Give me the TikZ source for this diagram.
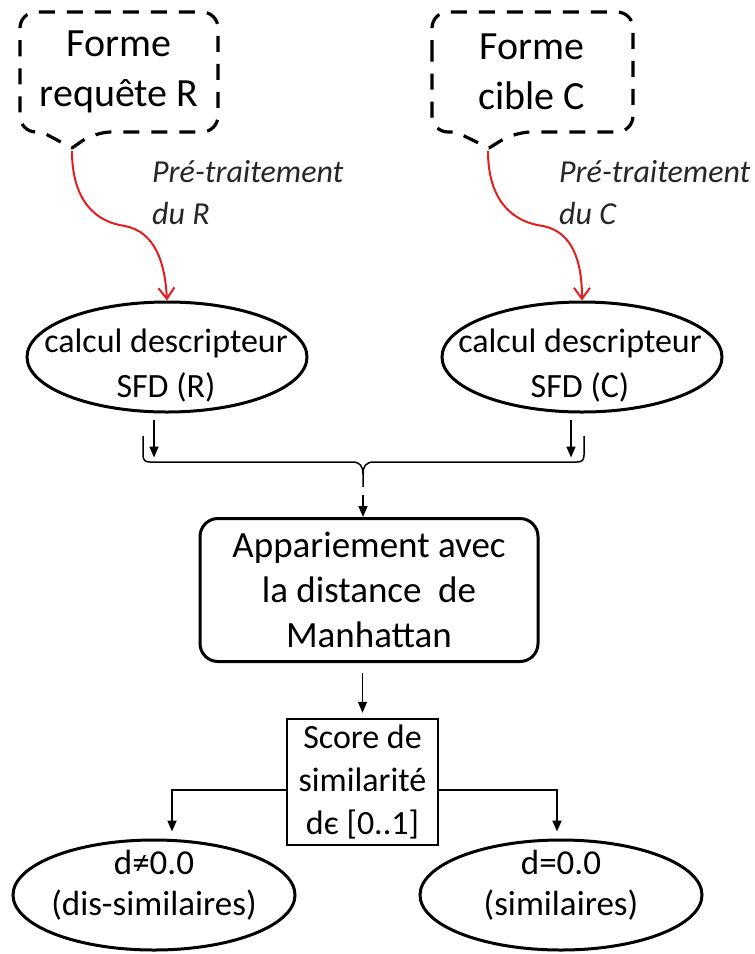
\documentclass[tikz,border=0pt]{standalone}
\usepackage{fontspec}
\setmainfont{Carlito}
\usetikzlibrary{arrows.meta,shapes.geometric}
\begin{document}
\begin{tikzpicture}[x=1pt,y=-1pt,
  txt/.style={font=\fontsize{34}{45}\selectfont, align=center, inner sep=0pt},
  bigtxt/.style={font=\fontsize{40}{50}\selectfont, align=center, inner sep=0pt},
  lbl/.style={font=\fontsize{32}{42}\selectfont\itshape, align=left, inner sep=0pt, anchor=north west, text=black!85},
  dashbox/.style={line width=3.2pt, dash pattern=on 16pt off 12pt, line join=round},
  ell/.style={ellipse, draw, line width=3pt, minimum width=280pt, minimum height=110pt, inner sep=0pt},
  redarrow/.style={draw={rgb,255:red,228;green,30;blue,30}, line width=2pt, -{Straight Barb[length=11pt,width=16pt]}},
  blackarrow/.style={line width=1.6pt, -{Triangle[length=11pt,width=9pt]}},
  thinline/.style={line width=1.5pt},
]
\useasboundingbox (0,0) rectangle (755,954);

% top callout boxes
\node[bigtxt] (R) at (119,72) {Forme\\requête R};
\draw[dashbox] (20,72) [rounded corners=16pt] -- (20,12) -- (218,12) -- (218,132) -- (95,132) [sharp corners] -- (72,148) -- (42,132) [rounded corners=16pt] -- (20,132) -- cycle;
\coordinate (Rtip) at (72,151);

\node[bigtxt] (C) at (532,72) {Forme\\cible C};
\draw[dashbox] (432,72) [rounded corners=16pt] -- (432,12) -- (633,12) -- (633,132) -- (515,132) [sharp corners] -- (489,148) -- (456,132) [rounded corners=16pt] -- (432,132) -- cycle;
\coordinate (Ctip) at (488,151);

% labels
\node[lbl] (L1) at (152,160) {Pré-traitement\\du R};
\node[lbl] (L2) at (559,160) {Pré-traitement\\du C};

% descriptor ellipses
\node[ell] (E1) at (167,357) {};
\node[txt] (E1t) at (166,366) {calcul descripteur\\SFD (R)};
\node[ell] (E2) at (582,357) {};
\node[txt] (E2t) at (580,366) {calcul descripteur\\SFD (C)};

% red curved arrows
\draw[redarrow] (Rtip) .. controls (72,200) and (95,222) .. (125,226) .. controls (155,232) and (165,262) .. (E1.north);
\draw[redarrow] (Ctip) .. controls (488,200) and (512,222) .. (543,226) .. controls (573,232) and (582,262) .. (E2.north);

% brace
\coordinate (brace) at (363,487);
\draw[thinline] (143,436) -- (143,455) .. controls (143,460) and (145,462) .. (150,462) -- (352,462) .. controls (360,462) and (363,466) .. (363,474) -- (brace);
\draw[thinline] (584,436) -- (584,455) .. controls (584,460) and (582,462) .. (577,462) -- (374,462) .. controls (366,462) and (363,466) .. (363,474);

\draw[blackarrow] ([xshift=-13pt,yshift=-6pt]E1.south) -- ++(0,38);
\draw[blackarrow] ([xshift=-11pt,yshift=-6pt]E2.south) -- ++(0,38);

% matching box
\node[draw, rounded corners=18pt, line width=3pt, minimum width=338pt, minimum height=143pt, txt, font=\fontsize{37}{45}\selectfont] (M) at (369,590) {Appariement avec\\la distance\ \ de\\Manhattan};
\draw[blackarrow] ([yshift=-8pt]brace) -- (brace |- M.north);

% score box
\node[draw, line width=2.5pt, minimum width=151pt, minimum height=126pt, txt, font=\fontsize{34}{43}\selectfont] (S) at (362.5,782) {Score de\\similarité\\dє [0..1]};
\draw[blackarrow, shorten <=10pt] (S.north |- M.south) -- ([yshift=5pt]S.north);

% result ellipses
\node[ell, minimum width=282pt] (B1) at (154,895) {};
\node[txt, font=\fontsize{35}{41}\selectfont] (B1t) at (154,885) {d≠0.0\\(dis-similaires)};
\node[ell, minimum width=282pt] (B2) at (561,895) {};
\node[txt, font=\fontsize{35}{41}\selectfont] (B2t) at (561,885) {d=0.0\\(similaires)};

\coordinate (l1) at (172,790);
\coordinate (r1) at (557,790);
\draw[blackarrow, line width=2pt] (S.west |- l1) -| ([yshift=7pt]B1.north -| l1);
\draw[blackarrow, line width=2pt] (S.east |- r1) -| ([yshift=7pt]B2.north -| r1);
\end{tikzpicture}
\end{document}
